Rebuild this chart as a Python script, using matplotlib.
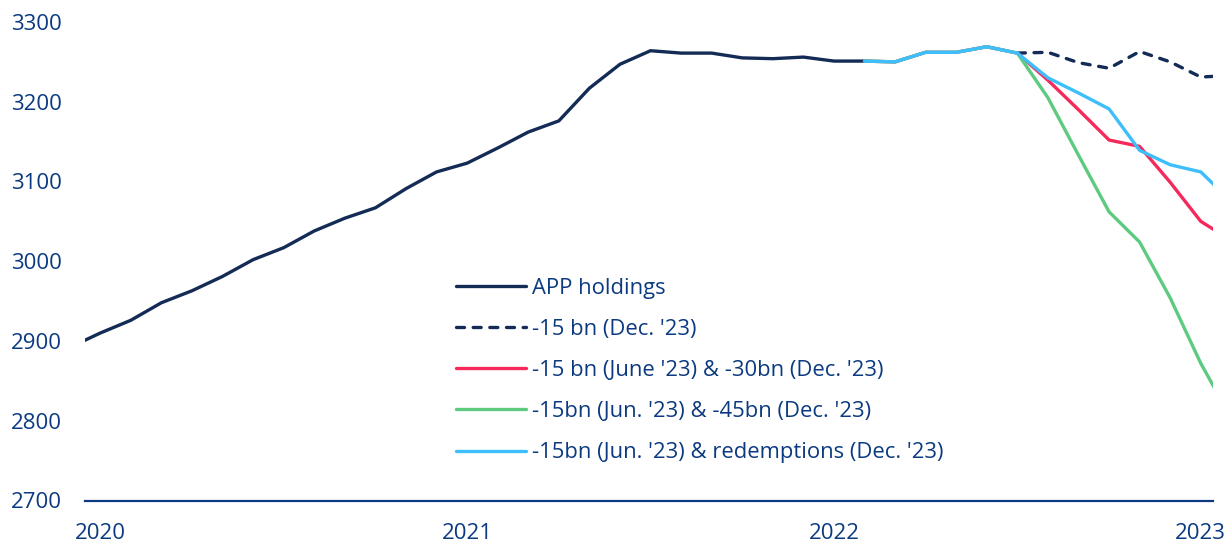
#!/usr/bin/env python3
# -*- coding: utf-8 -*-
"""APP holdings and run-off scenarios (EUR bn), monthly."""

import matplotlib
matplotlib.use("Agg")
import matplotlib.pyplot as plt
import numpy as np

# month index: 0 = Jan 2020
app_months = list(range(-1, 26))
app_holdings = [2892, 2910, 2926, 2948, 2963, 2981, 3002, 3017, 3038, 3054,
                3067, 3091, 3112, 3123, 3142, 3162, 3176, 3217, 3247, 3264,
                3261, 3261, 3255, 3254, 3256, 3251, 3251]

# common path of all scenarios (months 25..30)
bridge_months = list(range(25, 31))
bridge_values = [3251, 3250, 3262, 3262, 3269, 3261]

# scenario tails (months 31..37)
tail_months = list(range(31, 38))
sc_15_dec = [3262, 3249, 3242, 3263, 3250, 3231, 3233]
sc_15_30 = [3227, 3190, 3152, 3144, 3099, 3050, 3026]
sc_15_45 = [3205, 3133, 3062, 3024, 2954, 2872, 2803]
sc_15_red = [3230, 3211, 3191, 3139, 3121, 3112, 3075]

labels = ["APP holdings", "-15 bn (Dec. '23)", "-15 bn (June '23) & -30bn (Dec. '23)",
          "-15bn (Jun. '23) & -45bn (Dec. '23)", "-15bn (Jun. '23) & redemptions (Dec. '23)"]
year_ticks = [0, 12, 24, 36]
year_labels = ["2020", "2021", "2022", "2023"]

NAVY = "#132b55"
RED = "#f52a5a"
GREEN = "#5ccb80"
CYAN = "#3ebefa"
TEXT = "#0b3a80"

plt.rcParams["font.family"] = ["Open Sans", "DejaVu Sans"]

fig = plt.figure(figsize=(12.27, 5.43), dpi=100)
ax = fig.add_axes([85 / 1227, 1 - 500.5 / 543, 1128 / 1227, 478.5 / 543])

lw = 2.4
ax.plot(app_months, app_holdings, color=NAVY, lw=lw, label=labels[0],
        solid_capstyle="round")
last_bridge = [bridge_months[-1]], [bridge_values[-1]]
ax.plot(last_bridge[0] + tail_months, last_bridge[1] + sc_15_dec, color=NAVY, lw=lw,
        ls=(0, (2.4, 2.6)), label=labels[1], dash_capstyle="round")
ax.plot(bridge_months + tail_months, bridge_values + sc_15_30, color=RED, lw=lw,
        label=labels[2], solid_capstyle="round")
ax.plot(bridge_months + tail_months, bridge_values + sc_15_45, color=GREEN, lw=lw,
        label=labels[3], solid_capstyle="round")
ax.plot(bridge_months + tail_months, bridge_values + sc_15_red, color=CYAN, lw=lw,
        label=labels[4], solid_capstyle="round")

ax.set_xlim(-0.5, 36.4)
ax.set_ylim(2700, 3300)
ax.set_yticks(np.arange(2700, 3301, 100))
ax.set_xticks(year_ticks)
ax.set_xticklabels(year_labels)

for side in ("top", "right", "left"):
    ax.spines[side].set_visible(False)
ax.spines["bottom"].set_color(TEXT)
ax.spines["bottom"].set_linewidth(1.6)
ax.tick_params(axis="both", length=0, labelsize=16, colors=TEXT)
ax.tick_params(axis="y", pad=16.5)
ax.tick_params(axis="x", pad=16)

leg = ax.legend(loc="upper left", bbox_to_anchor=(0.329, 0.466), frameon=False,
                fontsize=15.8, handlelength=3.2, handletextpad=0.28,
                labelspacing=0.92, borderpad=0, borderaxespad=0)
for t in leg.get_texts():
    t.set_color(TEXT)

fig.savefig("out.png", dpi=100)
